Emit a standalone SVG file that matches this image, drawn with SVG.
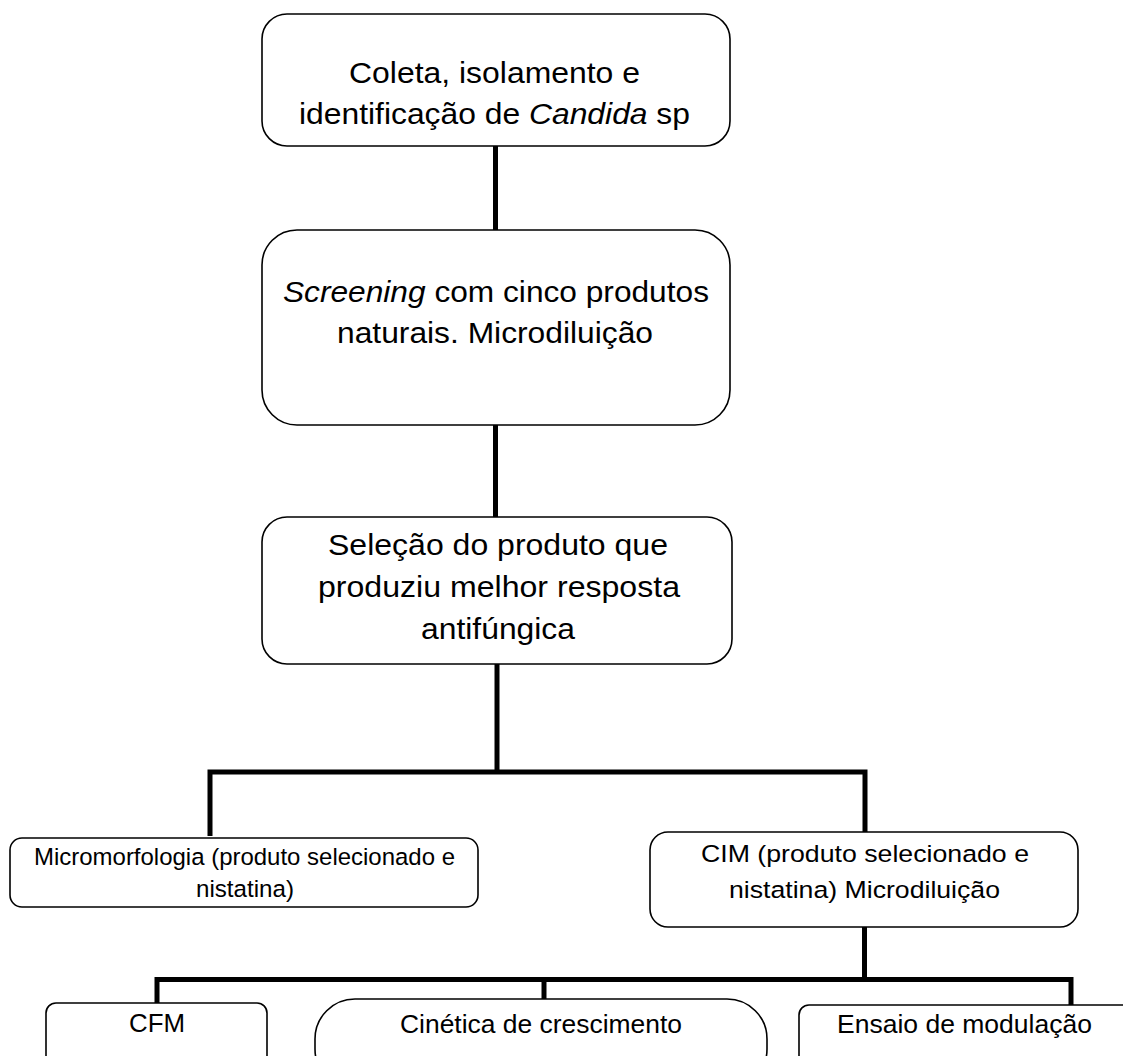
<svg xmlns="http://www.w3.org/2000/svg" width="1123" height="1056" viewBox="0 0 1123 1056">
<style>
.box{fill:#fff;stroke:#000;stroke-width:1.6}
.conn{fill:none;stroke:#000;stroke-width:5;stroke-linejoin:miter}
text{font-family:"Liberation Sans",Arial,sans-serif;fill:#000;text-anchor:middle}
.big{font-size:29px}
.mid{font-size:24.5px}
.sm{font-size:25.5px}
.it{font-style:italic}
</style>
<rect width="1123" height="1056" fill="#fff"/>
<g id="connectors">
<path class="conn" d="M495.5 146 V230"/>
<path class="conn" d="M495.5 425 V517"/>
<path class="conn" d="M497 664 V772"/>
<path class="conn" d="M210 836 V772 H865 V832"/>
<path class="conn" d="M864.5 927 V980"/>
<path class="conn" d="M157 1003 V979.5 H1071 V1005"/>
<path class="conn" d="M544 979.5 V1003"/>
</g>
<g id="node-coleta">
<rect class="box" x="262" y="14" width="468" height="132" rx="25"/>
<text class="big" x="494.5" y="83" textLength="291" lengthAdjust="spacingAndGlyphs">Coleta, isolamento e</text>
<text class="big" x="494.5" y="124" textLength="391" lengthAdjust="spacingAndGlyphs">identificação de <tspan class="it">Candida</tspan> sp</text>
</g>
<g id="node-screening">
<rect class="box" x="262" y="230" width="468" height="195" rx="35"/>
<text class="big" x="496" y="302" textLength="426" lengthAdjust="spacingAndGlyphs"><tspan class="it">Screening</tspan> com cinco produtos</text>
<text class="big" x="495" y="343" textLength="316" lengthAdjust="spacingAndGlyphs">naturais. Microdiluição</text>
</g>
<g id="node-selecao">
<rect class="box" x="262" y="517" width="470" height="147" rx="25"/>
<text class="big" x="498" y="555" textLength="340" lengthAdjust="spacingAndGlyphs">Seleção do produto que</text>
<text class="big" x="499" y="597" textLength="362" lengthAdjust="spacingAndGlyphs">produziu melhor resposta</text>
<text class="big" x="498" y="639" textLength="154" lengthAdjust="spacingAndGlyphs">antifúngica</text>
</g>
<g id="node-micromorfologia">
<rect class="box" x="10" y="838" width="468" height="69" rx="12"/>
<text class="mid" x="244.5" y="865" textLength="421" lengthAdjust="spacingAndGlyphs">Micromorfologia (produto selecionado e</text>
<text class="mid" x="245" y="897" textLength="98" lengthAdjust="spacingAndGlyphs">nistatina)</text>
</g>
<g id="node-cim">
<rect class="box" x="650" y="832" width="428" height="95" rx="18"/>
<text class="mid" x="865" y="862" textLength="328" lengthAdjust="spacingAndGlyphs">CIM (produto selecionado e</text>
<text class="mid" x="864.5" y="898" textLength="271" lengthAdjust="spacingAndGlyphs">nistatina) Microdiluição</text>
</g>
<g id="node-cfm">
<rect class="box" x="46" y="1003" width="221" height="90" rx="10"/>
<text class="sm" x="157" y="1032" textLength="56" lengthAdjust="spacingAndGlyphs">CFM</text>
</g>
<g id="node-cinetica">
<rect class="box" x="315" y="999" width="452" height="90" rx="40"/>
<text class="sm" x="541" y="1033" textLength="282" lengthAdjust="spacingAndGlyphs">Cinética de crescimento</text>
</g>
<g id="node-ensaio">
<rect class="box" x="799" y="1005" width="340" height="90" rx="10"/>
<text class="sm" x="964.5" y="1033" textLength="255" lengthAdjust="spacingAndGlyphs">Ensaio de modulação</text>
</g>
</svg>
